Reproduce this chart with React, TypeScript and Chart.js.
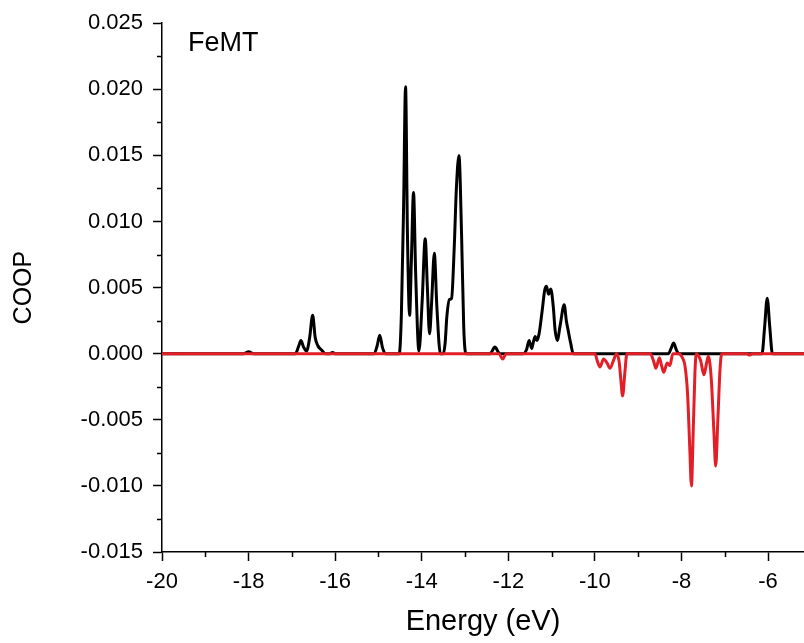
import React, { useEffect, useRef } from "react";
import { Chart, registerables } from "chart.js";

Chart.register(...registerables);

// Black curve (COOP, bonding side)
const blackEnergy = [
  -20, -18.12, -18.0, -17.88, -16.92, -16.84, -16.79, -16.73, -16.66, -16.59, -16.52, -16.46, -16.4, -16.32,
  -16.22, -16.12, -16.06, -16.0, -15.1, -15.03, -14.97, -14.91, -14.84, -14.52, -14.47, -14.42, -14.374, -14.33,
  -14.28, -14.24, -14.19, -14.14, -14.065, -13.99, -13.92, -13.87, -13.82, -13.77, -13.71, -13.65, -13.57, -13.5,
  -13.46, -13.42, -13.36, -13.31, -13.25, -13.2, -13.14, -13.08, -13.03, -12.98, -12.42, -12.31, -12.2, -11.66,
  -11.58, -11.52, -11.46, -11.42, -11.38, -11.34, -11.29, -11.22, -11.16, -11.12, -11.07, -11.02, -10.96, -10.92,
  -10.87, -10.8, -10.71, -10.66, -10.62, -10.56, -10.5, -8.3, -8.24, -8.18, -8.12, -8.06, -6.14, -6.08, -6.02,
  -5.96, -5.9, -5.17,
];
const blackCoop = [
  0, 0, 0.00015, 0, 0, 0.0006, 0.001, 0.0005, 0.0002, 0.0012, 0.0029, 0.0012, 0.0006, 0.0003,
  0, 0, 0.0001, 0, 0, 0.0006, 0.0014, 0.0005, 0, 0, 0.003, 0.011, 0.0202, 0.009,
  0.0029, 0.007, 0.0122, 0.006, 0.0002, 0.004, 0.0087, 0.005, 0.0015, 0.004, 0.0076, 0.0035, 0, 0,
  0.0008, 0.0028, 0.0041, 0.0042, 0.008, 0.0125, 0.015, 0.009, 0.002, 0, 0, 0.0005, 0, 0,
  0.0003, 0.001, 0.0004, 0.0009, 0.0013, 0.001, 0.0015, 0.0032, 0.0048, 0.0051, 0.0045, 0.0049, 0.0035, 0.0018,
  0.001, 0.0022, 0.0037, 0.0025, 0.0018, 0.0008, 0, 0, 0.0004, 0.0008, 0.0003, 0, 0, 0.002, 0.0042,
  0.002, 0, 0,
];

// Red curve (COOP, antibonding side)
const redEnergy = [
  -20, -12.22, -12.13, -12.05, -10.0, -9.94, -9.88, -9.8, -9.72, -9.65, -9.57, -9.5, -9.44, -9.4, -9.36, -9.31,
  -9.26, -8.72, -8.64, -8.59, -8.51, -8.46, -8.41, -8.33, -8.27, -8.2, -8.06, -7.98, -7.92, -7.86, -7.81, -7.77,
  -7.73, -7.69, -7.66, -7.56, -7.48, -7.42, -7.38, -7.31, -7.25, -7.21, -7.16, -7.11, -7.07, -6.5, -6.42, -6.35,
  -5.17,
];
const redCoop = [
  0, 0, -0.0004, 0, 0, -0.0006, -0.001, -0.0004, -0.0007, -0.0011, -0.0005, 0, -0.0006, -0.002, -0.0032, -0.0015,
  0, 0, -0.0006, -0.0011, -0.0003, -0.0009, -0.0014, -0.0007, -0.0009, 0, 0, -0.0003, -0.0009, -0.003, -0.007, -0.01,
  -0.006, -0.0015, 0, -0.0005, -0.0016, -0.0007, -0.0002, -0.002, -0.006, -0.0085, -0.005, -0.0012, 0, 0, -0.0001, 0,
  0,
];

const xMajorTicks = [-20, -18, -16, -14, -12, -10, -8, -6];
const xMinorTicks = [-19, -17, -15, -13, -11, -9, -7];
const yMajorTicks = [-0.015, -0.01, -0.005, 0, 0.005, 0.01, 0.015, 0.02, 0.025];
const yMinorTicks = [-0.0125, -0.0075, -0.0025, 0.0025, 0.0075, 0.0125, 0.0175, 0.0225];

const xMin = -20;
const xMax = -5.17;
const yMin = -0.015;
const yMax = 0.025;

const panelLabel = "FeMT";
const FONT = '"Liberation Sans", Arial, sans-serif';

const decorPlugin = {
  id: "decor",
  afterDraw(chart: any) {
    const { ctx, chartArea } = chart;
    const xs = chart.scales.x;
    const ys = chart.scales.y;
    ctx.save();
    ctx.strokeStyle = "#000";
    ctx.lineWidth = 1.5;
    ctx.beginPath();
    for (const v of xMinorTicks) {
      const px = Math.round(xs.getPixelForValue(v)) + 0.5;
      ctx.moveTo(px, chartArea.bottom);
      ctx.lineTo(px, chartArea.bottom + 5);
    }
    for (const v of yMinorTicks) {
      const py = Math.round(ys.getPixelForValue(v)) + 0.5;
      ctx.moveTo(chartArea.left, py);
      ctx.lineTo(chartArea.left - 5, py);
    }
    ctx.stroke();
    ctx.fillStyle = "#000";
    ctx.font = `27px ${FONT}`;
    ctx.textAlign = "left";
    ctx.textBaseline = "alphabetic";
    ctx.fillText(panelLabel, chartArea.left + 26, chartArea.top + 28);
    ctx.restore();
  },
};

export default function App() {
  const canvasRef = useRef<HTMLCanvasElement | null>(null);

  useEffect(() => {
    const canvas = canvasRef.current;
    if (!canvas) return;
    const chart = new Chart(canvas, {
      type: "line",
      data: {
        datasets: [
          {
            label: "red",
            data: redEnergy.map((x, i) => ({ x, y: redCoop[i] })),
            borderColor: "#e41e26",
            borderWidth: 3,
            pointRadius: 0,
            cubicInterpolationMode: "monotone",
            fill: false,
            order: 1,
          },
          {
            label: "black",
            data: blackEnergy.map((x, i) => ({ x, y: blackCoop[i] })),
            borderColor: "#000000",
            borderWidth: 3,
            pointRadius: 0,
            cubicInterpolationMode: "monotone",
            fill: false,
            order: 2,
          },
        ],
      },
      options: {
        animation: false,
        responsive: false,
        devicePixelRatio: 1,
        layout: { padding: { top: 20, right: 0, left: 0, bottom: 0 } },
        plugins: {
          legend: { display: false },
          tooltip: { enabled: false },
        },
        scales: {
          x: {
            type: "linear",
            min: xMin,
            max: xMax,
            afterBuildTicks: (scale: any) => {
              scale.ticks = xMajorTicks.map((v) => ({ value: v }));
            },
            afterFit: (scale: any) => {
              scale.height = 91;
            },
            ticks: {
              color: "#000",
              font: { family: FONT, size: 22 },
              padding: 8,
              maxRotation: 0,
              autoSkip: false,
              callback: (v: any) => String(v),
            },
            grid: {
              drawOnChartArea: false,
              drawTicks: true,
              tickLength: 9,
              tickColor: "#000",
              tickWidth: 1.5,
            },
            border: { display: true, color: "#000", width: 1.5 },
            title: {
              display: true,
              text: "Energy (eV)",
              color: "#000",
              font: { family: FONT, size: 29 },
              padding: { top: 0, bottom: 4 },
            },
          },
          y: {
            type: "linear",
            min: yMin,
            max: yMax,
            afterBuildTicks: (scale: any) => {
              scale.ticks = yMajorTicks.map((v) => ({ value: v }));
            },
            afterFit: (scale: any) => {
              scale.width = 162;
            },
            ticks: {
              color: "#000",
              font: { family: FONT, size: 22 },
              padding: 10,
              autoSkip: false,
              callback: (v: any) => Number(v).toFixed(3),
            },
            grid: {
              drawOnChartArea: false,
              drawTicks: true,
              tickLength: 9,
              tickColor: "#000",
              tickWidth: 1.5,
            },
            border: { display: true, color: "#000", width: 1.5 },
            title: {
              display: true,
              text: "COOP",
              color: "#000",
              font: { family: FONT, size: 25 },
              padding: { top: 9, bottom: 0 },
            },
          },
        },
      },
      plugins: [decorPlugin],
    } as any);
    return () => chart.destroy();
  }, []);

  return (
    <div style={{ position: "fixed", left: 0, top: 0, width: 804, height: 643, background: "#fff" }}>
      <canvas ref={canvasRef} width={804} height={643} style={{ display: "block" }} />
    </div>
  );
}
